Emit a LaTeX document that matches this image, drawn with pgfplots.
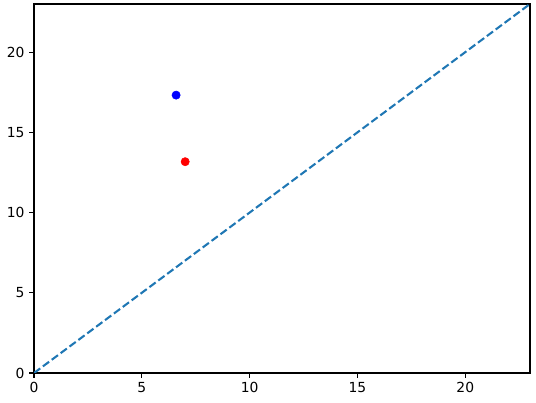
\documentclass[border=0pt]{standalone}
\usepackage{fontspec}
\setmainfont{DejaVu Sans}
\usepackage{pgfplots}
\pgfplotsset{compat=1.18}
\definecolor{tabblue}{HTML}{1F77B4}
\begin{document}
\begin{tikzpicture}
\begin{axis}[scale only axis,width=372pt,height=276.75pt,
  xmin=0,xmax=23,ymin=0,ymax=23,
  xtick={0,5,10,15,20},ytick={0,5,10,15,20},
  tick align=outside,tick pos=left,
  major tick length=3.65pt,
  every tick/.style={black,line width=0.83pt},
  axis line style={line width=0.83pt},
  tick label style={font=\fontsize{10.4}{12}\selectfont},
  /pgf/number format/assume math mode=true,
  clip=true]
\addplot[tabblue,line width=1.56pt,dash pattern=on 5.8pt off 2.5pt] coordinates {(0,0) (23,23)};
\addplot[only marks,mark=*,mark size=3.1pt,color=blue,mark options={fill=blue,draw=blue}] coordinates {(6.59,17.32)};
\addplot[only marks,mark=*,mark size=3.1pt,color=red,mark options={fill=red,draw=red}] coordinates {(7.01,13.17)};
\end{axis}
\pgfresetboundingbox
\path ([xshift=-25.5pt,yshift=-22.5pt]current axis.south west) rectangle ([xshift=4.5pt,yshift=3pt]current axis.north east);
\end{tikzpicture}
\end{document}
